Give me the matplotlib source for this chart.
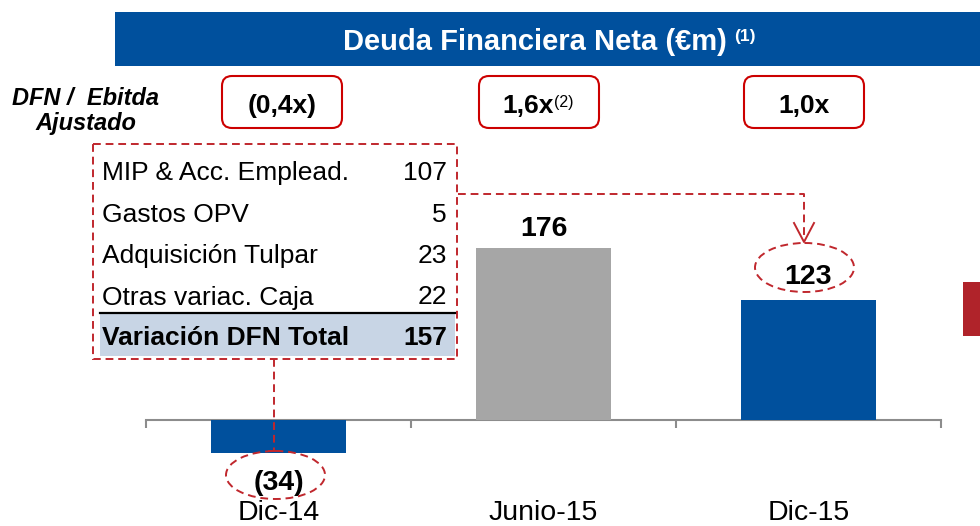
import matplotlib
matplotlib.use("Agg")
import matplotlib.pyplot as plt
from matplotlib.patches import Rectangle, FancyBboxPatch, Ellipse
from matplotlib.lines import Line2D
from matplotlib.transforms import Affine2D

plt.rcParams['font.family'] = ['Liberation Sans', 'DejaVu Sans']

# DATA

categories = ['Dic-14', 'Junio-15', 'Dic-15']
values = [-34, 176, 123]
value_labels = ['(34)', '176', '123']
ratios = ['(0,4x)', '1,6x', '1,0x']
ratio_notes = ['', '(2)', '']
table_labels = ['MIP & Acc. Emplead.', 'Gastos OPV', 'Adquisición Tulpar', 'Otras variac. Caja']
table_values = [107, 5, 23, 22]
total_label = 'Variación DFN Total'
total_value = 157

title = 'Deuda Financiera Neta (€m)'
title_note = '(1)'
ratio_title = ['DFN /  Ebitda', 'Ajustado']

# STYLE

W, H = 980, 526
BLUE = '#00509d'
GRAY = '#a6a6a6'
DASH_RED = '#c0272d'
BOX_RED = '#cc0000'
AXIS_GRAY = '#8c8c8c'
DASH = (0, (4, 2.5))
bar_colors = [BLUE, GRAY, BLUE]

fig = plt.figure(figsize=(W / 100, H / 100), dpi=100)
px = Affine2D().scale(1, -1).translate(0, H)  # pixel coords, origin at top-left

# bars axes: baseline at y=420px, ~0.977 px per unit
k = 0.977
y0, y1 = -40, 280
ax = fig.add_axes([146 / W, (H - (420 - y0 * k)) / H, 795 / W, (y1 - y0) * k / H])
ax.set_xlim(-0.5, 2.5)
ax.set_ylim(y0, y1)
ax.bar(range(len(values)), values, width=0.513, color=bar_colors, zorder=3)

for s in ['top', 'left', 'right']:
    ax.spines[s].set_visible(False)
ax.spines['bottom'].set_position(('data', 0))
ax.spines['bottom'].set_color(AXIS_GRAY)
ax.spines['bottom'].set_linewidth(1.5)
ax.set_xticks([-0.5, 0.5, 1.5, 2.5])
ax.set_xticklabels([])
ax.tick_params(axis='x', length=6, width=1.5, color=AXIS_GRAY, direction='out')
ax.set_yticks([])
ax.patch.set_visible(False)

# value and category labels
label_pad = [-37, 12, 16]  # px from bar end to baseline
for i, (v, lab) in enumerate(zip(values, value_labels)):
    ax.annotate(lab, xy=(i, v), xytext=(0, label_pad[i] * 0.72), textcoords='offset points',
                ha='center', va='baseline', fontsize=20.5, fontweight='bold', zorder=5)
for i, cat in enumerate(categories):
    ax.annotate(cat, xy=(i, 0), xytext=(0, -100 * 0.72), textcoords='offset points',
                ha='center', va='baseline', fontsize=20.5, annotation_clip=False)

# title banner
fig.add_artist(Rectangle((115, 12), 870, 54, transform=px, color=BLUE, lw=0))
t = fig.text(535, 50, title, transform=px, ha='center', va='baseline',
             fontsize=21, fontweight='bold', color='white')
fig.add_artist(plt.Annotation(title_note, xy=(1, 1), xycoords=t, xytext=(5, -1),
                              textcoords='offset points', ha='left', va='top',
                              fontsize=12.5, fontweight='bold', color='white'))

# ratio row
fig.text(86, 105, ratio_title[0], transform=px, ha='center', va='baseline',
         fontsize=17, fontweight='bold', fontstyle='italic')
fig.text(86, 130, ratio_title[1], transform=px, ha='center', va='baseline',
         fontsize=17, fontweight='bold', fontstyle='italic')
box_x = [282, 539, 804]
for cx, r, note in zip(box_x, ratios, ratio_notes):
    fig.add_artist(FancyBboxPatch((cx - 60, 76), 120, 52, transform=px,
                                  boxstyle='round,pad=0,rounding_size=10',
                                  fc='white', ec=BOX_RED, lw=1.5))
    if note:
        rt = fig.text(cx - 11, 113, r, transform=px, ha='center', va='baseline',
                      fontsize=19, fontweight='bold')
        fig.add_artist(plt.Annotation(note, xy=(1, 1), xycoords=rt, xytext=(0, -1),
                                      textcoords='offset points', ha='left', va='top',
                                      fontsize=11.5))
    else:
        fig.text(cx, 113, r, transform=px, ha='center', va='baseline',
                 fontsize=19, fontweight='bold')

# breakdown table
fig.add_artist(Rectangle((100, 313), 355, 43, transform=px, color='#c8d5e5', lw=0))
fig.add_artist(Line2D([100, 455], [313, 313], transform=px, color='black', lw=1.6))
fig.add_artist(Rectangle((93, 144), 364, 215, transform=px, fill=False,
                         ec=DASH_RED, lw=1.4, ls=DASH))
row_y = [180, 221.5, 263, 304.5]
for y, lab, v in zip(row_y, table_labels, table_values):
    fig.text(102, y, lab, transform=px, ha='left', va='baseline', fontsize=19)
    fig.text(447, y, str(v), transform=px, ha='right', va='baseline', fontsize=19)
fig.text(102, 345, total_label, transform=px, ha='left', va='baseline',
         fontsize=19, fontweight='bold')
fig.text(447, 345, str(total_value), transform=px, ha='right', va='baseline',
         fontsize=19, fontweight='bold')

# connectors
fig.add_artist(Line2D([458, 804, 804], [194, 194, 240], transform=px,
                      color=DASH_RED, lw=1.4, ls=DASH))
fig.add_artist(Line2D([794, 804, 814], [223, 242, 223], transform=px,
                      color=DASH_RED, lw=1.4))
fig.add_artist(Line2D([274, 274], [359, 451], transform=px,
                      color=DASH_RED, lw=1.4, ls=DASH))
fig.add_artist(Line2D([269, 279], [451, 451], transform=px, color=DASH_RED, lw=1.4))

# dashed ellipses around start and end values
fig.add_artist(Ellipse((804.5, 267.5), 99, 49, transform=px, fill=False,
                       ec=DASH_RED, lw=1.4, ls=DASH))
fig.add_artist(Ellipse((275.5, 475), 99, 48, transform=px, fill=False,
                       ec=DASH_RED, lw=1.4, ls=DASH))

# red tab at right edge
fig.add_artist(Rectangle((963, 282), 20, 54, transform=px, color='#b0232a', lw=0))

fig.savefig('out.png', dpi=100)
